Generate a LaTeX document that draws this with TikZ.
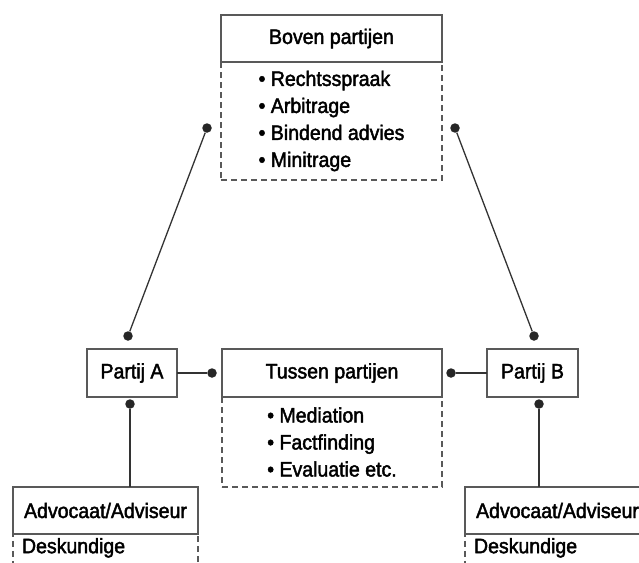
\documentclass[tikz,border=0pt]{standalone}
\usepackage{fontspec}
\setmainfont[FakeStretch=0.93, FakeBold=2]{Liberation Sans}
\usetikzlibrary{positioning}

\begin{document}
\begin{tikzpicture}[x=1pt, y=-1pt,
		kop/.style   = {rectangle, draw=black!65, line width=1.4pt, fill=white, inner sep=0pt, outer sep=0pt, font=\fontsize{21}{27}\selectfont},
		lijst/.style = {rectangle, draw=black!65, line width=1.2pt, dash pattern=on 6pt off 4pt, inner sep=0pt, outer sep=0pt, align=left, font=\fontsize{21}{27}\selectfont},
		stip/.style  = {circle, fill=black!85, inner sep=0pt, minimum size=9.5pt},
		lijn/.style  = {draw=black!80, line width=1.3pt}
		]
		\clip (0,0) rectangle (639,562);
		
		\node[kop, minimum width=221pt, minimum height=47pt]	(boven)	at	(331.5, 38.5)	{Boven partijen};
		\node[lijst, minimum width=221pt, minimum height=118pt, below=0pt of boven]	(bovenlijst)	{• Rechtsspraak\\• Arbitrage\\• Bindend advies\\• Minitrage};
		
		\node[kop, minimum width=220pt, minimum height=48pt]	(tussen)	at	(332, 373)	{Tussen partijen};
		\node[lijst, minimum width=220pt, minimum height=90pt, below=0pt of tussen]	(tussenlijst)	{• Mediation\\• Factfinding\\• Evaluatie etc.};
		
		\node[kop, minimum width=90pt, minimum height=48pt]	(partijA)	at	(132, 373)	{Partij A};
		\node[kop, minimum width=91pt, minimum height=48pt]	(partijB)	at	(532.5, 373)	{Partij B};
		
		\node[kop, minimum width=185pt, minimum height=47pt]	(adviseurA)	at	(105.5, 510.5)	{Advocaat/Adviseur};
		\node[lijst, text width=167pt, text depth=40pt, inner xsep=9pt, inner ysep=4pt, below=0pt of adviseurA]	(deskundigeA)	{Deskundige};
		\node[kop, minimum width=185pt, minimum height=47pt]	(adviseurB)	at	(557.5, 510.5)	{Advocaat/Adviseur};
		\node[lijst, text width=167pt, text depth=40pt, inner xsep=9pt, inner ysep=4pt, below=0pt of adviseurB]	(deskundigeB)	{Deskundige};
		
		% stippen
		\node[stip]	(stipBovenA)	at	(207, 128)	{};
		\node[stip]	(stipAboven)	at	(128, 336)	{};
		\node[stip]	(stipBovenB)	at	(455, 128)	{};
		\node[stip]	(stipBboven)	at	(534, 336)	{};
		\node[stip]	(stipAtussen)	at	(212, 373)	{};
		\node[stip]	(stipBtussen)	at	(451, 373)	{};
		\node[stip]	(stipAadv)	at	(130, 404)	{};
		\node[stip]	(stipBadv)	at	(539, 404)	{};
		
		\draw[lijn]	(stipBovenA)	--	(stipAboven);
		\draw[lijn]	(stipBovenB)	--	(stipBboven);
		\draw[lijn]	(partijA.east)	--	(stipAtussen);
		\draw[lijn]	(stipBtussen)	--	(partijB.west);
		\draw[lijn]	(stipAadv)	--	(stipAadv |- adviseurA.north);
		\draw[lijn]	(stipBadv)	--	(stipBadv |- adviseurB.north);
\end{tikzpicture}
\end{document}
